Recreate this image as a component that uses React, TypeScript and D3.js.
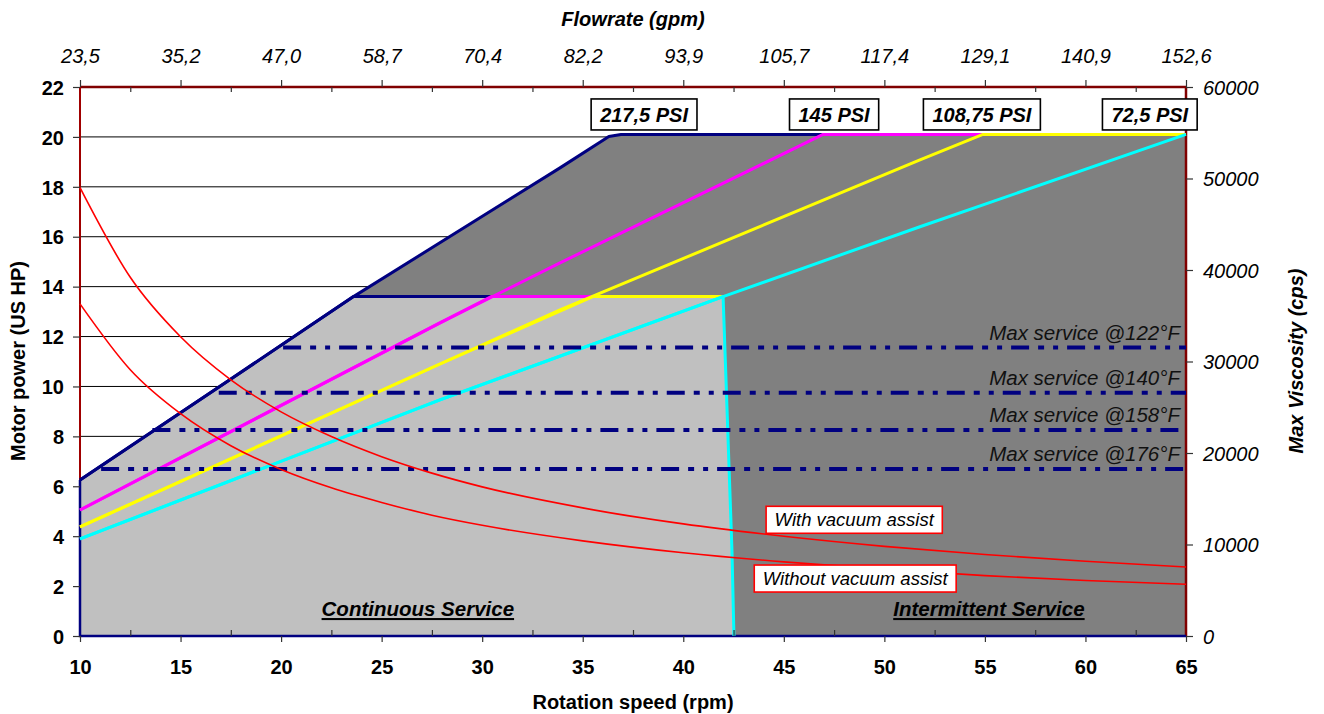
import React, { useEffect, useRef } from "react";
import * as d3 from "d3";

// ---------- axis data ----------
const rpmTicks = [10, 15, 20, 25, 30, 35, 40, 45, 50, 55, 60, 65];
const rpmMinorTicks = [12.5, 17.5, 22.5, 27.5, 32.5, 37.5, 42.5, 47.5, 52.5, 57.5, 62.5];
const flowLabels = ["23,5", "35,2", "47,0", "58,7", "70,4", "82,2", "93,9", "105,7", "117,4", "129,1", "140,9", "152,6"];
const powerTicks = [0, 2, 4, 6, 8, 10, 12, 14, 16, 18, 20, 22];
const gridTicks = [2, 4, 6, 8, 10, 12, 14, 16, 18, 20];
const viscTicks = [0, 10000, 20000, 30000, 40000, 50000, 60000];

// ---------- pressure series [rpm, hp] ----------
const navyContinuous = [[10, 6.25], [17.56, 10.33], [23.6, 13.6], [42, 13.6]];
const navyIntermittent = [[10, 6.25], [17.56, 10.33], [23.6, 13.6], [33.87, 18.76], [36.3, 20.02], [36.9, 20.1], [65, 20.1]];
const magentaContinuous = [[10, 5.05], [27.9, 12.55], [30.45, 13.6], [42, 13.6]];
const magentaIntermittent = [[10, 5.05], [27.9, 12.55], [33.87, 14.95], [46.95, 20.1], [65, 20.1]];
const yellowContinuous = [[10, 4.37], [27.9, 10.9], [35.5, 13.6], [42, 13.6]];
const yellowIntermittent = [[10, 4.37], [27.9, 10.9], [33.87, 13.07], [51.77, 19.08], [54.9, 20.1], [65, 20.1]];
const cyanContinuous = [[10, 3.89], [27.9, 9.46], [41.98, 13.6], [42.42, 3.45], [42.52, 0]];
const cyanIntermittent = [[10, 3.89], [27.9, 9.46], [41.98, 13.6], [51.77, 16.4], [65, 20.1]];
const continuousArea = [[10, 0], [10, 6.25], [17.56, 10.33], [23.6, 13.6], [41.98, 13.6], [42.42, 3.45], [42.52, 0]];

// ---------- PSI labels ----------
const psiLabels = ["217,5 PSI", "145 PSI", "108,75 PSI", "72,5 PSI"];
const psiLabelRpm = [38.05, 47.5, 54.85, 63.2];
const psiLabelHp = [20.9, 20.9, 20.9, 20.9];

// ---------- max service lines ----------
const serviceLabels = ["Max service @122°F", "Max service @140°F", "Max service @158°F", "Max service @176°F"];
const serviceHp = [11.56, 9.75, 8.26, 6.69];
const serviceStartRpm = [20.1, 16.9, 13.6, 11.05];

// ---------- viscosity curves ----------
const viscRpm = [10, 12.5, 15, 17.5, 20, 22.5, 25, 27.5, 30, 35, 40, 45, 50, 55, 60, 65];
const withVacuum = [49000, 39200, 32700, 28000, 24500, 21800, 19600, 17800, 16300, 14000, 12250, 10900, 9800, 8900, 8170, 7540];
const withoutVacuum = [36300, 29100, 24300, 20800, 18200, 16200, 14600, 13200, 12100, 10400, 9100, 8100, 7300, 6600, 6070, 5650];
const vacuumLabels = ["With vacuum assist", "Without vacuum assist"];
const vacuumLabelRpm = [48.5, 48.55];
const vacuumLabelVisc = [12700, 6280];

const serviceAreaLabels = ["Continuous Service", "Intermittent Service"];
const serviceAreaRpm = [26.8, 55.2];

const FONT = "'Liberation Sans', Arial, Helvetica, sans-serif";

export default function App() {
  const ref = useRef<SVGSVGElement>(null);

  useEffect(() => {
    const svg = d3.select(ref.current as SVGSVGElement);
    svg.selectAll("*").remove();

    const x = d3.scaleLinear().domain([10, 65]).range([80, 1186]);
    const y = d3.scaleLinear().domain([0, 22]).range([636, 87]);
    const yv = d3.scaleLinear().domain([0, 60000]).range([636, 87]);
    const line = d3.line<number[]>().x((d) => x(d[0])).y((d) => y(d[1]));

    // gridlines
    svg.append("g")
      .selectAll("line")
      .data(gridTicks)
      .join("line")
      .attr("x1", x(10)).attr("x2", x(65))
      .attr("y1", (d) => y(d)).attr("y2", (d) => y(d))
      .attr("stroke", "#000").attr("stroke-width", 1);

    // areas
    svg.append("path")
      .attr("d", line([[10, 0], ...navyIntermittent, [65, 0]]))
      .attr("fill", "#808080");
    svg.append("path")
      .attr("d", line(continuousArea))
      .attr("fill", "#c0c0c0");

    // axis frame lines
    svg.append("line").attr("x1", x(10)).attr("x2", x(65)).attr("y1", y(22)).attr("y2", y(22))
      .attr("stroke", "#800000").attr("stroke-width", 2.5);
    svg.append("line").attr("x1", x(10)).attr("x2", x(10)).attr("y1", y(22)).attr("y2", y(0))
      .attr("stroke", "#a00000").attr("stroke-width", 2);
    svg.append("line").attr("x1", x(65)).attr("x2", x(65)).attr("y1", y(22)).attr("y2", y(0))
      .attr("stroke", "#800000").attr("stroke-width", 2.5);

    // navy outline of the envelope (left + bottom)
    svg.append("path")
      .attr("d", line([[10, 6.25], [10, 0], [65, 0]]))
      .attr("fill", "none").attr("stroke", "#000080").attr("stroke-width", 2.5);

    // pressure lines
    const seriesList: [number[][], string][] = [
      [navyContinuous, "#000080"],
      [navyIntermittent, "#000080"],
      [magentaContinuous, "#ff00ff"],
      [magentaIntermittent, "#ff00ff"],
      [yellowContinuous, "#ffff00"],
      [yellowIntermittent, "#ffff00"],
      [cyanContinuous, "#00ffff"],
      [cyanIntermittent, "#00ffff"],
    ];
    svg.append("g")
      .selectAll("path")
      .data(seriesList)
      .join("path")
      .attr("d", (d) => line(d[0]))
      .attr("fill", "none")
      .attr("stroke", (d) => d[1])
      .attr("stroke-width", 3)
      .attr("stroke-linejoin", "round");

    // max service dash-dot lines
    svg.append("g")
      .selectAll("line")
      .data(serviceHp)
      .join("line")
      .attr("x1", (d, i) => x(serviceStartRpm[i]))
      .attr("x2", x(65))
      .attr("y1", (d) => y(d)).attr("y2", (d) => y(d))
      .attr("stroke", "#000080").attr("stroke-width", 4)
      .attr("stroke-dasharray", "18,9,6,9,5,9");

    // viscosity curves
    const vline = d3.line<number>()
      .x((d, i) => x(viscRpm[i]))
      .y((d) => yv(d))
      .curve(d3.curveMonotoneX);
    [withVacuum, withoutVacuum].forEach((arr) => {
      svg.append("path").attr("d", vline(arr)).attr("fill", "none")
        .attr("stroke", "#ff0000").attr("stroke-width", 1.6);
    });

    // ---------- axes ----------
    const styleAxis = (g: d3.Selection<SVGGElement, unknown, null, undefined>) => {
      g.select(".domain").remove();
      g.selectAll(".tick line").attr("stroke", "#333").attr("stroke-width", 1.2);
      g.selectAll("text").attr("fill", "#000").attr("font-family", FONT).attr("font-size", 20);
    };

    // bottom
    const gb = svg.append("g").attr("transform", `translate(0,${y(0)})`)
      .call(d3.axisBottom(x).tickValues(rpmTicks).tickSize(6).tickFormat(d3.format("d")) as any);
    styleAxis(gb as any);
    gb.selectAll("text").attr("y", 38).attr("dy", 0).attr("font-weight", "bold");
    const gbm = svg.append("g").attr("transform", `translate(0,${y(0)})`)
      .call(d3.axisBottom(x).tickValues(rpmMinorTicks).tickSize(-6).tickFormat(() => "") as any);
    styleAxis(gbm as any);

    // top
    const gt = svg.append("g").attr("transform", `translate(0,${y(22)})`)
      .call(d3.axisTop(x).tickValues(rpmTicks).tickSize(7).tickFormat((d, i) => flowLabels[i]) as any);
    styleAxis(gt as any);
    gt.selectAll("text").attr("y", -24).attr("dy", 0).attr("font-style", "italic");
    const gtm = svg.append("g").attr("transform", `translate(0,${y(22)})`)
      .call(d3.axisTop(x).tickValues(rpmMinorTicks).tickSize(-5).tickFormat(() => "") as any);
    styleAxis(gtm as any);

    // left
    const gl = svg.append("g").attr("transform", `translate(${x(10)},0)`)
      .call(d3.axisLeft(y).tickValues(powerTicks).tickSize(7).tickFormat(d3.format("d")) as any);
    styleAxis(gl as any);
    gl.selectAll("text").attr("x", -16).attr("dy", "0.36em").attr("font-weight", "bold");

    // right
    const gr = svg.append("g").attr("transform", `translate(${x(65)},0)`)
      .call(d3.axisRight(yv).tickValues(viscTicks).tickSize(7).tickFormat(d3.format("d")) as any);
    styleAxis(gr as any);
    gr.selectAll("text").attr("x", 17).attr("dy", "0.36em").attr("font-style", "italic");

    // ---------- service line labels ----------
    svg.append("g")
      .selectAll("text")
      .data(serviceLabels)
      .join("text")
      .attr("x", x(64.7))
      .attr("y", (d, i) => y(serviceHp[i]) - 8)
      .attr("text-anchor", "end")
      .attr("font-family", FONT).attr("font-size", 20.5).attr("font-style", "italic")
      .attr("fill", "#111")
      .text((d) => d);

    // boxed labels helper
    const boxed = (
      label: string, cx: number, cy: number, size: number,
      weight: string, stroke: string, padX: number, h: number
    ) => {
      const g = svg.append("g");
      const rect = g.append("rect");
      const t = g.append("text")
        .attr("x", cx).attr("y", cy).attr("dy", "0.36em")
        .attr("text-anchor", "middle")
        .attr("font-family", FONT).attr("font-size", size)
        .attr("font-style", "italic").attr("font-weight", weight)
        .attr("fill", "#000").text(label);
      const w = (t.node() as SVGTextElement).getComputedTextLength() + padX * 2;
      rect.attr("x", cx - w / 2).attr("y", cy - h / 2).attr("width", w).attr("height", h)
        .attr("fill", "#fff").attr("stroke", stroke).attr("stroke-width", 1.6);
    };

    psiLabels.forEach((l, i) => boxed(l, x(psiLabelRpm[i]), y(psiLabelHp[i]), 20, "bold", "#000", 9, 31));
    vacuumLabels.forEach((l, i) => boxed(l, x(vacuumLabelRpm[i]), yv(vacuumLabelVisc[i]), 18.5, "normal", "#ff0000", 8.5, 27));

    // service area labels
    svg.append("g")
      .selectAll("text")
      .data(serviceAreaLabels)
      .join("text")
      .attr("x", (d, i) => x(serviceAreaRpm[i]))
      .attr("y", y(0.8))
      .attr("text-anchor", "middle")
      .attr("font-family", FONT).attr("font-size", 20.5)
      .attr("font-style", "italic").attr("font-weight", "bold")
      .attr("text-decoration", "underline")
      .attr("fill", "#000")
      .text((d) => d);

    // axis titles
    svg.append("text").attr("x", 633).attr("y", 26).attr("text-anchor", "middle")
      .attr("font-family", FONT).attr("font-size", 20).attr("font-weight", "bold").attr("font-style", "italic")
      .text("Flowrate (gpm)");
    svg.append("text").attr("x", 633).attr("y", 709).attr("text-anchor", "middle")
      .attr("font-family", FONT).attr("font-size", 20).attr("font-weight", "bold")
      .text("Rotation speed (rpm)");
    svg.append("text").attr("transform", "translate(25,361) rotate(-90)").attr("text-anchor", "middle")
      .attr("font-family", FONT).attr("font-size", 20).attr("font-weight", "bold")
      .text("Motor power (US HP)");
    svg.append("text").attr("transform", "translate(1303,361) rotate(-90)").attr("text-anchor", "middle")
      .attr("font-family", FONT).attr("font-size", 20).attr("font-weight", "bold").attr("font-style", "italic")
      .text("Max Viscosity (cps)");
  }, []);

  return (
    <svg
      ref={ref}
      width={1324}
      height={714}
      style={{ position: "absolute", left: 0, top: 0, background: "#fff", display: "block" }}
    />
  );
}
